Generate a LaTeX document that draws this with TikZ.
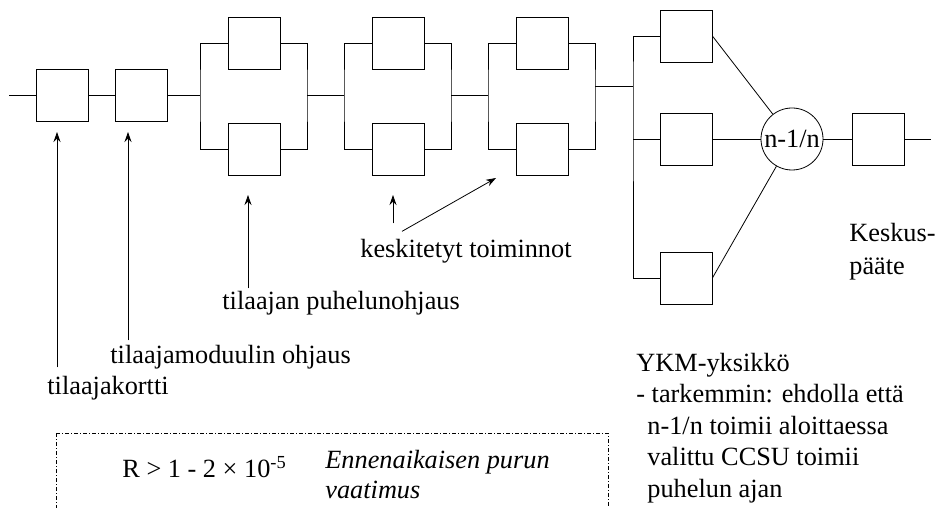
\documentclass[tikz,border=0pt]{standalone}
\usepackage{fontspec}
\setmainfont{Liberation Serif}
\usetikzlibrary{arrows.meta}
\begin{document}
\begin{tikzpicture}[x=1bp, y=-1bp, line width=0.8bp, font=\fontsize{26.4}{31.6}\selectfont]
   \tikzstyle{lohko}=[draw, rectangle, minimum size=52bp, inner sep=0pt]
   \tikzstyle{teksti}=[inner sep=0pt, anchor=base west]
   \tikzstyle{nuoli}=[-{Stealth[length=10bp, width=7bp]}]
   \useasboundingbox (0,0) rectangle (939,508);

% sarjaan kytketyt
\coordinate (alku) at (9,95);
\node[lohko] (k1) at (62,95) {};
\node[lohko] (k2) at (141,95) {};

% rinnakkaiset parit
\foreach \n/\x in {1/254, 2/398, 3/542} {
    \node[lohko] (p\n a) at (\x,43) {};
    \node[lohko] (p\n b) at (\x,149) {};
    \coordinate (v\n) at (\x-54,95);
    \coordinate (o\n) at (\x+53,95);
    \draw (p\n a.west) -| (v\n) |- (p\n b.west);
    \draw (p\n a.east) -| (o\n) |- (p\n b.east);
}

\draw (alku) -- (k1) -- (k2) -- (v1);
\draw (o1) -- (v2);
\draw (o2) -- (v3);

% YKM
\coordinate (h) at (633,86);
\node[lohko] (r1) at (686,36) {};
\node[lohko] (r2) at (686,139) {};
\node[lohko] (r3) at (686,278) {};
\node[draw, circle, minimum size=62bp, inner sep=0pt] (n) at (792,139) {n-1/n};
\node[lohko] (pa) at (878,139) {};
\coordinate (loppu) at (931,139);

\draw (h -| o3) -- (h);
\draw (r1.west) -| (h) |- (r3.west);
\draw (r2.west) -- (r2.west -| h);
\draw (r1.east) -- (n);
\draw (r2) -- (n);
\draw (r3.east) -- (n);
\draw (n) -- (pa) -- (loppu);

\node[teksti] (kes) at (849,242) {Keskus-};
\node[teksti] (paate) at (849,275) {pääte};

% selitteet
\node[teksti] (kortti) at (47,394) {tilaajakortti};
\node[teksti] (moduuli) at (110,364) {tilaajamoduulin ohjaus};
\node[teksti] (puhelu) at (222,310) {tilaajan puhelunohjaus};
\node[teksti] (keski) at (360,258) {keskitetyt toiminnot};

\coordinate (t1) at (57,132);
\coordinate (t2) at (128,132);
\coordinate (t3) at (248,195);
\coordinate (t4) at (393,195);
\coordinate (t5) at (496,178);
\draw[nuoli, shorten <=8bp] (t1 |- kortti.north) -- (t1);
\draw[nuoli, shorten <=5bp] (t2 |- moduuli.north) -- (t2);
\draw[nuoli, shorten <=3bp] (t3 |- puhelu.north) -- (t3);
\draw[nuoli, shorten <=16bp] (t4 |- keski.north) -- (t4);
\draw[nuoli] ([shift={(42,-8)}]keski.north west) -- (t5);

% viimeisen rivin perusviiva
\node[teksti, align=left] (ykm) at (636,497) {YKM-yksikkö\\- tarkemmin: ehdolla että\\\hspace*{11bp}n-1/n toimii aloittaessa\\\hspace*{11bp}valittu CCSU toimii\\\hspace*{11bp}puhelun ajan};

% vaatimus
\draw[dash pattern=on 4bp off 2bp on 1bp off 2bp] (56,433) rectangle (608,540);
\node[teksti] (arvo) at (122,477) {R > 1 - 2 × 10\textsuperscript{-5}};
\node[teksti] (vaat1) at (325,468) {\itshape Ennenaikaisen purun};
\node[teksti] (vaat2) at (325,498) {\itshape vaatimus};

\end{tikzpicture}
\end{document}
